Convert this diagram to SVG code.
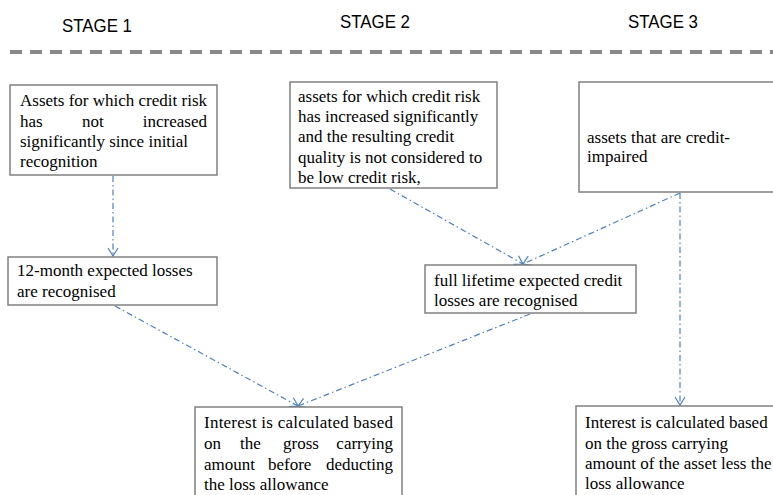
<svg xmlns="http://www.w3.org/2000/svg" width="773" height="495" viewBox="0 0 773 495">
<style>
.stage{font-family:"Liberation Sans",Arial,sans-serif;font-size:19px;fill:#000}
.box{fill:#fff;stroke:#808080;stroke-width:1.5}
.t{font-family:"Liberation Serif","Times New Roman",serif;font-size:17px;fill:#000}
.e{text-anchor:end}
.c{fill:none;stroke:#4f81bd;stroke-width:1.2;stroke-dasharray:6 3 1.5 3}
</style>
<defs>
<marker id="a" markerWidth="12" markerHeight="12" refX="10" refY="6" orient="auto" markerUnits="userSpaceOnUse">
<path d="M2,1 L10,6 L2,11" fill="none" stroke="#4f81bd" stroke-width="1.2"/>
</marker>
</defs>
<rect width="773" height="495" fill="#fff"/>
<g id="stages">
<text class="stage" x="62" y="32" textLength="70" lengthAdjust="spacingAndGlyphs">STAGE 1</text>
<text class="stage" x="340" y="28" textLength="70" lengthAdjust="spacingAndGlyphs">STAGE 2</text>
<text class="stage" x="628" y="28" textLength="70" lengthAdjust="spacingAndGlyphs">STAGE 3</text>
<line x1="10" y1="52" x2="773" y2="52" stroke="#888" stroke-width="4" stroke-dasharray="12 8"/>
</g>
<g id="connectors">
<line class="c" x1="113" y1="176" x2="113" y2="256" marker-end="url(#a)"/>
<line class="c" x1="390" y1="189" x2="523" y2="264" marker-end="url(#a)"/>
<line class="c" x1="680" y1="193" x2="523" y2="264" marker-end="url(#a)"/>
<line class="c" x1="115" y1="306" x2="298" y2="406" marker-end="url(#a)"/>
<line class="c" x1="530" y1="314" x2="298" y2="406" marker-end="url(#a)"/>
<line class="c" x1="680" y1="193" x2="680" y2="405" marker-end="url(#a)"/>
</g>
<g id="s1-assets">
<rect class="box" x="10" y="85" width="207" height="90"/>
<text class="t" x="20" y="106" textLength="187" lengthAdjust="spacing">Assets for which credit risk</text>
<text class="t" x="20" y="127">has</text>
<text class="t" x="82" y="127">not</text>
<text class="t e" x="207" y="127">increased</text>
<text class="t" x="20" y="147">significantly  since initial</text>
<text class="t" x="20" y="167">recognition</text>
</g>
<g id="s2-assets">
<rect class="box" x="290" y="82" width="207" height="106"/>
<text class="t" x="298" y="102">assets for which credit risk</text>
<text class="t" x="298" y="122">has increased significantly</text>
<text class="t" x="298" y="142">and the resulting credit</text>
<text class="t" x="298" y="163">quality is not considered to</text>
<text class="t" x="298" y="183">be low credit risk,</text>
</g>
<g id="s3-assets">
<rect class="box" x="579" y="82" width="200" height="110"/>
<text class="t" x="587" y="143">assets that are credit-</text>
<text class="t" x="587" y="162">impaired</text>
</g>
<g id="s1-losses">
<rect class="box" x="8" y="257" width="209" height="48"/>
<text class="t" x="17" y="276">12-month expected losses</text>
<text class="t" x="17" y="297">are recognised</text>
</g>
<g id="s2-losses">
<rect class="box" x="425" y="265" width="211" height="48"/>
<text class="t" x="434" y="286">full lifetime expected credit</text>
<text class="t" x="434" y="306">losses are recognised</text>
</g>
<g id="s12-interest">
<rect class="box" x="195" y="407" width="207" height="95"/>
<text class="t" x="204" y="428" textLength="189" lengthAdjust="spacing">Interest is calculated based</text>
<text class="t" x="204" y="449">on</text>
<text class="t" x="240" y="449">the</text>
<text class="t" x="283" y="449">gross</text>
<text class="t e" x="393" y="449">carrying</text>
<text class="t" x="204" y="470">amount</text>
<text class="t" x="268" y="470">before</text>
<text class="t e" x="393" y="470">deducting</text>
<text class="t" x="204" y="490">the loss allowance</text>
</g>
<g id="s3-interest">
<rect class="box" x="576" y="406" width="205" height="96"/>
<text class="t" x="585" y="428">Interest is calculated based</text>
<text class="t" x="585" y="449">on the gross carrying</text>
<text class="t" x="585" y="469">amount of the asset less the</text>
<text class="t" x="585" y="489">loss allowance</text>
</g>
</svg>
